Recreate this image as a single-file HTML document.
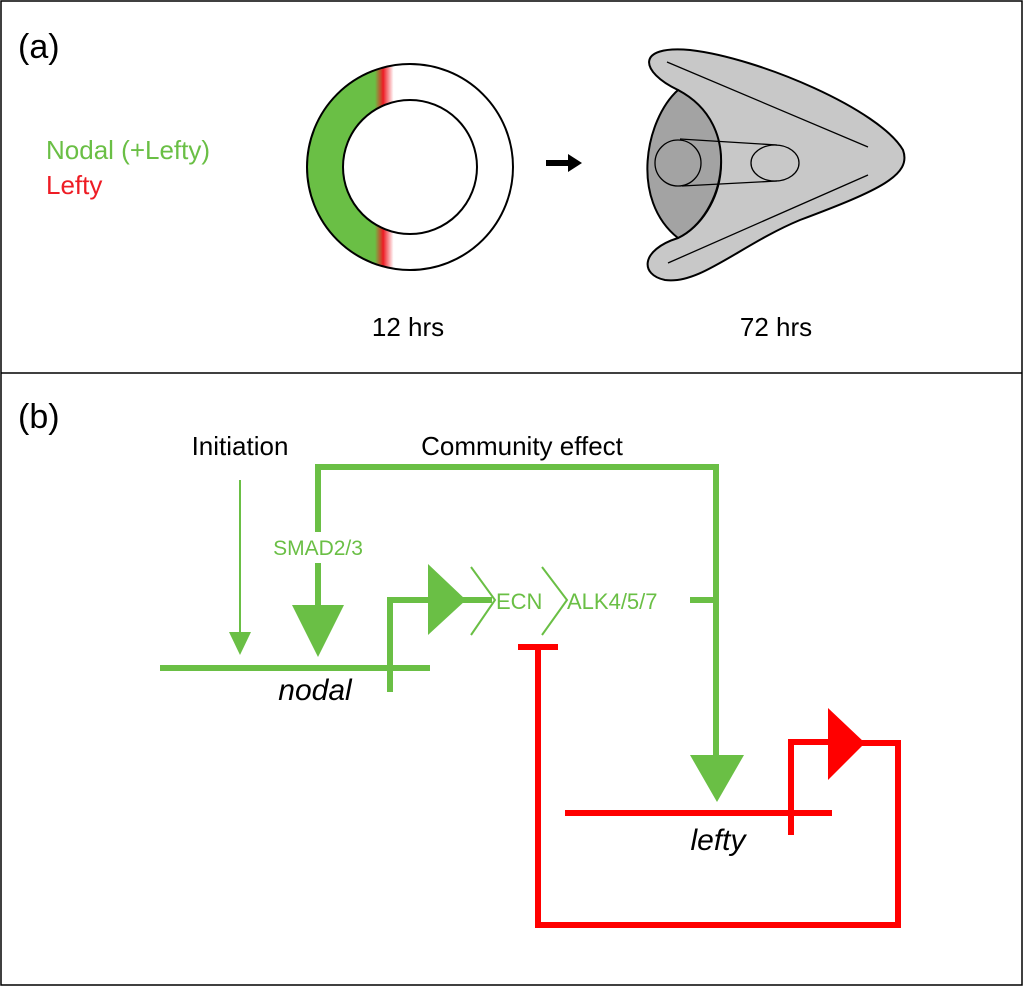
<!DOCTYPE html>
<html><head><style>body{margin:0;background:#fff}svg{display:block}</style></head><body>
<svg width="1024" height="987" viewBox="0 0 1024 987" xmlns="http://www.w3.org/2000/svg" font-family="Liberation Sans, sans-serif">
<defs>
<linearGradient id="rg" x1="307" y1="0" x2="513" y2="0" gradientUnits="userSpaceOnUse">
<stop offset="0" stop-color="#6abf45"/><stop offset="0.33" stop-color="#6abf45"/>
<stop offset="0.37" stop-color="#ee1c24"/><stop offset="0.42" stop-color="#ffffff"/><stop offset="1" stop-color="#ffffff"/>
</linearGradient>
</defs>
<rect x="1" y="1" width="1021" height="984" fill="#fff" stroke="#000" stroke-width="1.5"/>
<line x1="1" y1="373" x2="1022" y2="373" stroke="#000" stroke-width="1.5"/>
<text x="18" y="58" font-size="34">(a)</text>
<text x="18" y="428" font-size="34">(b)</text>
<text x="46" y="159" font-size="26" fill="#6abf45">Nodal (+Lefty)</text>
<text x="46" y="194" font-size="26" fill="#ee1c24">Lefty</text>
<path fill-rule="evenodd" fill="url(#rg)" stroke="#000" stroke-width="2" d="M307,167 a103,103 0 1,0 206,0 a103,103 0 1,0 -206,0 Z M343,167 a67,67 0 1,0 134,0 a67,67 0 1,0 -134,0 Z"/>
<line x1="546" y1="163" x2="572" y2="163" stroke="#000" stroke-width="6"/>
<path d="M568,154 L582,163 L568,172 Z" fill="#000"/>
<path d="M678,90 C640,72 635,45 690,50 C760,58 880,110 903,150 C912,175 880,190 800,220 C740,245 700,285 665,280 C640,275 640,250 678,238 C725,215 745,130 678,90 Z" fill="#c8c8c8" stroke="#000" stroke-width="2"/>
<path d="M678,90 C645,120 630,200 678,238 C725,215 745,125 678,90 Z" fill="#a3a3a3" stroke="#000" stroke-width="2"/>
<line x1="667" y1="62" x2="868" y2="147" stroke="#000" stroke-width="1.3"/>
<line x1="668" y1="263" x2="868" y2="175" stroke="#000" stroke-width="1.3"/>
<line x1="680" y1="139" x2="777" y2="145" stroke="#000" stroke-width="1.3"/>
<line x1="682" y1="186" x2="777" y2="181" stroke="#000" stroke-width="1.3"/>
<ellipse cx="678" cy="163" rx="23" ry="23" fill="none" stroke="#000" stroke-width="1.3"/>
<ellipse cx="775" cy="163" rx="24" ry="18" fill="none" stroke="#000" stroke-width="1.3"/>
<text x="408" y="336" font-size="26" text-anchor="middle">12 hrs</text>
<text x="776" y="336" font-size="26" text-anchor="middle">72 hrs</text>

<text x="240" y="455" font-size="26" text-anchor="middle">Initiation</text>
<text x="522" y="455" font-size="26" text-anchor="middle">Community effect</text>
<g stroke="#6abf45" fill="none" stroke-width="6">
<polyline points="318,532 318,467 716,467 716,760"/>
<line x1="318" y1="563" x2="318" y2="608"/>
<line x1="160" y1="668" x2="430" y2="668"/>
<polyline points="390,692 390,600 430,600"/>
<line x1="462" y1="600" x2="492" y2="600"/>
<line x1="690" y1="600" x2="716" y2="600"/>
</g>
<line x1="240" y1="480" x2="240" y2="635" stroke="#6abf45" stroke-width="2"/>
<path d="M229,632 L251,632 L240,655 Z" fill="#6abf45"/>
<path d="M292,605 L344,605 L318,657 Z" fill="#6abf45"/>
<path d="M428,564 L466,600 L428,635 Z" fill="#6abf45"/>
<path d="M690,755 L744,755 L717,802 Z" fill="#6abf45"/>
<polyline points="471,567 495,600 471,635" fill="none" stroke="#6abf45" stroke-width="2"/>
<polyline points="542,567 567,600 542,635" fill="none" stroke="#6abf45" stroke-width="2"/>
<text x="318" y="555" font-size="21" fill="#6abf45" text-anchor="middle">SMAD2/3</text>
<text x="496" y="609" font-size="22" fill="#6abf45">ECN</text>
<text x="567" y="609" font-size="22" fill="#6abf45">ALK4/5/7</text>
<text x="315" y="700" font-size="30" font-style="italic" text-anchor="middle">nodal</text>
<g stroke="#ff0000" fill="none" stroke-width="6">
<line x1="518" y1="647" x2="558" y2="647"/>
<polyline points="538,647 538,925 898,925 898,743 862,743"/>
<line x1="565" y1="813" x2="832" y2="813"/>
<polyline points="791,835 791,742 830,742"/>
</g>
<path d="M828,708 L865,743 L828,780 Z" fill="#ff0000"/>
<text x="718" y="850" font-size="30" font-style="italic" text-anchor="middle">lefty</text>
</svg>
</body></html>
